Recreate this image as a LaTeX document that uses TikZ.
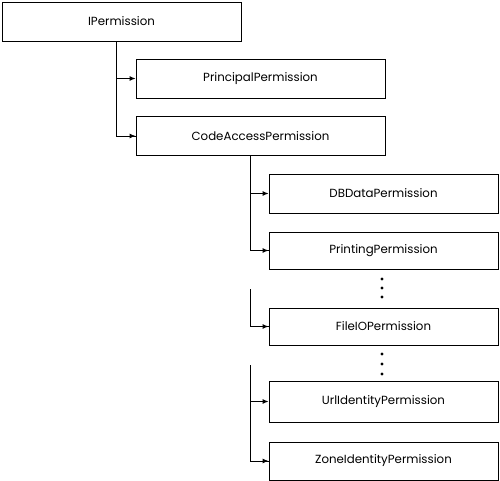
\documentclass[tikz,border=0pt]{standalone}
\usepackage{fontspec}
\setmainfont{Poppins}
\usetikzlibrary{arrows.meta}
\begin{document}
\begin{tikzpicture}[x=1pt,y=-1pt,
  box/.style={draw, line width=0.9pt, minimum height=39pt, inner sep=0pt, font=\fontsize{11.8}{14}\selectfont},
  conn/.style={line width=0.9pt, -{Latex[length=6pt,width=5pt]}},
  vline/.style={line width=0.9pt},
  dot/.style={fill, circle, inner sep=0pt, minimum size=3.2pt}]
\useasboundingbox (0,0) rectangle (500,481);
\node[box, minimum width=239pt] (ip) at (121.5,21.5) {IPermission};
\node[box, minimum width=249pt] (pp) at (260.5,78.5) {PrincipalPermission};
\node[box, minimum width=249pt] (ca) at (260.5,136) {CodeAccessPermission};
\node[box, minimum width=229pt] (db) at (383.5,193.5) {DBDataPermission};
\node[box, minimum width=229pt, minimum height=37pt] (pr) at (383.5,250.5) {PrintingPermission};
\node[box, minimum width=229pt, minimum height=37pt] (fi) at (383.5,326.5) {FileIOPermission};
\node[box, minimum width=229pt, minimum height=41pt] (ur) at (383.5,401.5) {UrlIdentityPermission};
\node[box, minimum width=229pt, minimum height=38pt] (zo) at (383.5,461) {ZoneIdentityPermission};
\node[dot] (d1) at (382,279) {};
\node[dot] (d2) at (382,288) {};
\node[dot] (d3) at (382,297) {};
\node[dot] (d4) at (382,354) {};
\node[dot] (d5) at (382,364) {};
\node[dot] (d6) at (382,374) {};
\coordinate (s1) at ([xshift=-5.5pt]ip.south);
\draw[vline] (s1) |- (ca.west);
\draw[conn] (s1 |- pp.west) -- (pp.west);
\draw[conn] (s1 |- ca.west) -- (ca.west);
\coordinate (s2) at (250,155.5);
\draw[vline] (s2) |- (pr.west);
\draw[conn] (s2 |- db.west) -- (db.west);
\draw[conn] (s2 |- pr.west) -- (pr.west);
\coordinate (s3) at (250,289);
\draw[vline] (s3) |- (fi.west);
\draw[conn] (s3 |- fi.west) -- (fi.west);
\coordinate (s4) at (250,365);
\draw[vline] (s4) |- (zo.west);
\draw[conn] (s4 |- ur.west) -- (ur.west);
\draw[conn] (s4 |- zo.west) -- (zo.west);
\end{tikzpicture}
\end{document}
